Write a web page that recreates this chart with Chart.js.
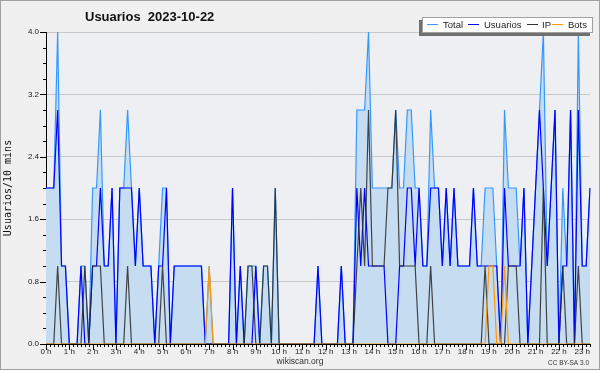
<!DOCTYPE html>
<html>
<head>
<meta charset="utf-8">
<script src="https://cdn.jsdelivr.net/npm/chart.js@4"></script>
<style>
  body { margin: 0; background: #f0f0f0; }
  canvas { display: block; }
</style>
</head>
<body>
<canvas id="myChart" width="600" height="370"></canvas>
<script>
// one point every 10 minutes, 0:00 .. 23:20
var hourLabels = ['0 h','1 h','2 h','3 h','4 h','5 h','6 h','7 h','8 h','9 h','10 h','11 h',
                  '12 h','13 h','14 h','15 h','16 h','17 h','18 h','19 h','20 h','21 h','22 h','23 h'];

var total = [
  2,2,2,4,1,1,0,0,0,1,  1,0,2,2,3,1,1,2,0,2,  2,3,2,1,2,1,1,1,0,1,
  2,2,0,1,1,1,1,1,1,1,  1,0,1,0,0,0,0,0,2,0,  1,0,1,1,1,0,1,1,0,2,
  0,0,0,0,0,0,0,0,0,0,  1,0,0,0,0,0,1,0,0,0,  3,3,3,4,2,2,2,2,2,2,
  3,2,2,3,3,2,2,1,1,3,  2,2,1,2,1,2,1,1,1,1,  2,1,1,2,2,2,1,0,3,2,
  2,2,1,2,0,1,2,3,4,1,  2,3,0,2,1,3,0,4,1,1,  2
];
var usuarios = [
  2,2,2,3,1,1,0,0,0,1,  0,0,1,1,2,1,1,2,0,2,  2,2,2,1,2,1,1,1,0,1,
  1,2,0,1,1,1,1,1,1,1,  1,0,0,0,0,0,0,0,2,0,  1,0,0,0,1,0,0,0,0,0,
  0,0,0,0,0,0,0,0,0,0,  1,0,0,0,0,0,1,0,0,0,  2,1,2,1,1,1,1,1,0,0,
  0,1,1,2,2,1,2,1,1,2,  2,2,1,2,1,2,1,1,1,1,  2,1,1,1,1,1,1,0,2,1,
  1,1,1,2,0,1,2,3,2,1,  2,3,0,1,1,3,0,3,1,1,  2
];
var ip = [
  0,0,0,1,0,0,0,0,0,0,  1,0,1,1,1,0,0,0,0,0,  0,1,0,0,0,0,0,0,0,0,
  1,0,0,0,0,0,0,0,0,0,  0,0,0,0,0,0,0,0,0,0,  0,0,1,1,0,0,1,1,0,2,
  0,0,0,0,0,0,0,0,0,0,  0,0,0,0,0,0,0,0,0,0,  1,2,1,3,1,1,1,1,2,2,
  3,1,1,1,1,1,0,0,0,1,  0,0,0,0,0,0,0,0,0,0,  0,0,0,1,0,0,0,0,0,1,
  1,1,0,0,0,0,0,0,2,0,  0,0,0,1,0,0,0,1,0,0,  0
];
var bots = [
  0,0,0,0,0,0,0,0,0,0,  0,0,0,0,0,0,0,0,0,0,  0,0,0,0,0,0,0,0,0,0,
  0,0,0,0,0,0,0,0,0,0,  0,0,1,0,0,0,0,0,0,0,  0,0,0,0,0,0,0,0,0,0,
  0,0,0,0,0,0,0,0,0,0,  0,0,0,0,0,0,0,0,0,0,  0,0,0,0,0,0,0,0,0,0,
  0,0,0,0,0,0,0,0,0,0,  0,0,0,0,0,0,0,0,0,0,  0,0,0,0,1,1,0,0,1,0,
  0,0,0,0,0,0,0,0,0,0,  0,0,0,0,0,0,0,0,0,0,  0
];

var slots = total.map(function(v, i){
    return Math.floor(i / 6) + ':' + (i % 6) + '0';
});

var colTotal = '#3399ff';
var colFill = '#c6dcf0';
var colUsu = '#0000ff';
var colIP = '#333333';
var colBots = '#ff9900';

// background, tick marks, title, legend, credits
var deco = {
    id: 'deco',
    beforeDraw: function(chart){
        var c = chart.ctx, a = chart.chartArea;
        c.save();
        c.fillStyle = '#f0f0f0';
        c.fillRect(0, 0, chart.width, chart.height);
        c.fillStyle = '#eeeff2';
        c.fillRect(a.left, a.top, a.right - a.left, a.bottom - a.top);
        c.restore();
    },
    afterDraw: function(chart){
        var c = chart.ctx, a = chart.chartArea;
        var xs = chart.scales.x, ys = chart.scales.y;
        c.save();
        c.strokeStyle = '#000';
        c.lineWidth = 1;
        c.beginPath();
        for (var i = 0; i < slots.length; i++) {
            var px = Math.round(xs.getPixelForValue(i)) + 0.5;
            c.moveTo(px, a.bottom);
            c.lineTo(px, a.bottom + (i % 6 === 0 ? 6 : 3));
        }
        for (var k = 0; k <= 20; k++) {
            var py = Math.round(ys.getPixelForValue(k * 0.2)) + 0.5;
            c.moveTo(a.left - (k % 4 === 0 ? 6 : 3), py);
            c.lineTo(a.left, py);
        }
        c.stroke();

        // title
        c.fillStyle = '#111';
        c.font = 'bold 13px "Liberation Sans", Arial, sans-serif';
        c.textAlign = 'left';
        c.textBaseline = 'alphabetic';
        c.fillText('Usuarios  2023-10-22', 85, 21);

        // legend
        c.fillStyle = '#707070';
        c.fillRect(419, 20, 171, 16);
        c.fillStyle = '#ffffff';
        c.fillRect(422, 17, 171, 16);
        c.strokeStyle = '#a0a0a0';
        c.strokeRect(422.5, 17.5, 170, 15);
        var items = [
            ['Total', colTotal, 427, 443],
            ['Usuarios', colUsu, 468, 484],
            ['IP', colIP, 527, 542],
            ['Bots', colBots, 552, 568]
        ];
        c.font = '9.5px "Liberation Sans", Arial, sans-serif';
        items.forEach(function(it){
            c.strokeStyle = it[1];
            c.beginPath();
            c.moveTo(it[2], 24.5);
            c.lineTo(it[2] + 11, 24.5);
            c.stroke();
            c.fillStyle = '#222';
            c.fillText(it[0], it[3], 28);
        });

        // credits
        c.font = '8.5px "Liberation Sans", Arial, sans-serif';
        c.textAlign = 'center';
        c.fillStyle = '#333';
        c.fillText('wikiscan.org', 300, 364);
        c.font = '6.5px "Liberation Sans", Arial, sans-serif';
        c.textAlign = 'right';
        c.fillText('CC BY-SA 3.0', 589, 364.5);

        // frame
        c.strokeStyle = '#a0a0a0';
        c.strokeRect(0.5, 0.5, chart.width - 1, chart.height - 1);
        c.restore();
    }
};

var ctx = document.getElementById('myChart');
var myChart = new Chart(ctx, {
    type: 'line',
    data: {
        labels: slots,
        datasets: [
            { label: 'Bots', data: bots, borderColor: colBots, borderWidth: 1.2, order: 0, fill: false },
            { label: 'IP', data: ip, borderColor: 'rgba(40,40,40,0.85)', borderWidth: 1.2, order: 1, fill: false },
            { label: 'Usuarios', data: usuarios, borderColor: colUsu, borderWidth: 1.2, order: 2, fill: false },
            { label: 'Total', data: total, borderColor: colTotal, backgroundColor: colFill, borderWidth: 1.2, order: 3, fill: 'origin' }
        ]
    },
    options: {
        responsive: false,
        animation: false,
        devicePixelRatio: 1,
        layout: { padding: { left: 0, top: 32, right: 10, bottom: 0 } },
        elements: { point: { radius: 0 }, line: { tension: 0 } },
        plugins: {
            legend: { display: false },
            title: { display: false },
            tooltip: { enabled: false }
        },
        scales: {
            x: {
                type: 'category',
                offset: false,
                grid: { display: false, drawTicks: false },
                border: { display: true, color: '#000' },
                ticks: {
                    autoSkip: false,
                    maxRotation: 0,
                    padding: 3,
                    color: '#222',
                    font: { family: 'Liberation Sans', size: 8 },
                    callback: function(value, index){
                        return index % 6 === 0 ? hourLabels[index / 6] : '';
                    }
                },
                afterFit: function(scale){ scale.height = 26; }
            },
            y: {
                min: 0,
                max: 4,
                grid: { color: '#c8c8c8', drawTicks: false },
                border: { display: true, color: '#000' },
                ticks: {
                    stepSize: 0.8,
                    padding: 7,
                    color: '#222',
                    font: { family: 'Liberation Sans', size: 8 },
                    callback: function(v){ return v.toFixed(1); }
                },
                title: {
                    display: true,
                    text: 'Usuarios/10 mins',
                    color: '#111',
                    padding: { top: 2, bottom: 0 },
                    font: { family: 'DejaVu Sans Mono', size: 10 }
                },
                afterFit: function(scale){ scale.width = 46; }
            }
        }
    },
    plugins: [deco]
});
</script>
</body>
</html>
